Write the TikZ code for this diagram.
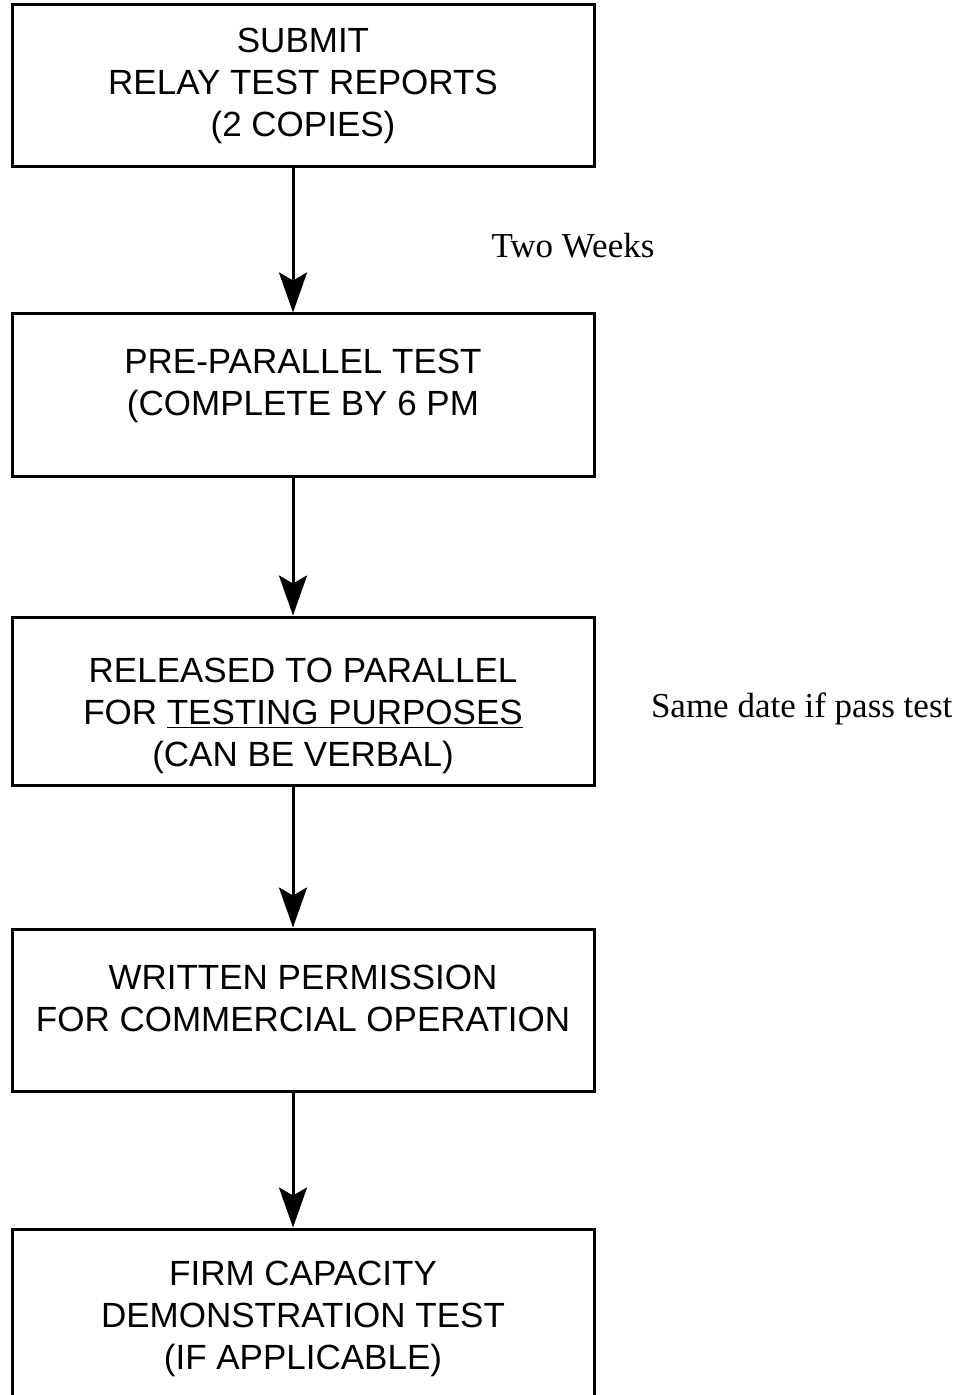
\documentclass[tikz,border=0pt]{standalone}
\usepackage{fontspec}
\setmainfont{Liberation Sans}
\newfontfamily\notefont{Liberation Serif}
\usetikzlibrary{arrows.meta, positioning}

\begin{document}
\begin{tikzpicture}[>={Stealth[length=20pt, width=14pt, inset=4pt]}, node distance=153pt, line width=1.5pt,
    stage/.style={rectangle, draw, minimum width=291pt, minimum height=81pt, inner sep=0pt, align=center, font=\fontsize{17.5}{21}\selectfont},
    note/.style={font=\notefont\fontsize{17.5}{21}\selectfont, inner sep=0pt}]
        \useasboundingbox (0,0) rectangle (480pt,-697.5pt);

        \node[stage] (sub) at (151.5pt,-43pt) {SUBMIT\\RELAY TEST REPORTS\\(2 COPIES)};
        \node[stage, below of=sub, yshift=-1.5pt, text depth=12.7pt] (pre) {PRE-PARALLEL TEST\\(COMPLETE BY 6 PM};
        \node[stage, below of=pre, text height=69pt, minimum height=84pt] (rel) {RELEASED TO PARALLEL\\FOR \underline{TESTING PURPOSES}\\(CAN BE VERBAL)};
        \node[stage, below of=rel, yshift=-1.5pt, text depth=12pt] (wri) {WRITTEN PERMISSION\\FOR COMMERCIAL OPERATION};
        \node[stage, below of=wri, minimum height=90pt, yshift=-1.5pt] (firm) {FIRM CAPACITY\\DEMONSTRATION TEST\\(IF APPLICABLE)};

        % side notes
        \node[note, right=27pt of rel, yshift=-4pt] (same) {Same date if pass test};

        % Draw vertical arrows
        \draw[->] ([xshift=-5pt]sub.south) -- ([xshift=-5pt]pre.north) node[midway, note, right=98.5pt, yshift=-2.5pt] (two) {Two Weeks};
        \draw[->] ([xshift=-5pt]pre.south) -- ([xshift=-5pt]rel.north);
        \draw[->] ([xshift=-5pt]rel.south) -- ([xshift=-5pt]wri.north);
        \draw[->] ([xshift=-5pt]wri.south) -- ([xshift=-5pt]firm.north);

\end{tikzpicture}
\end{document}
